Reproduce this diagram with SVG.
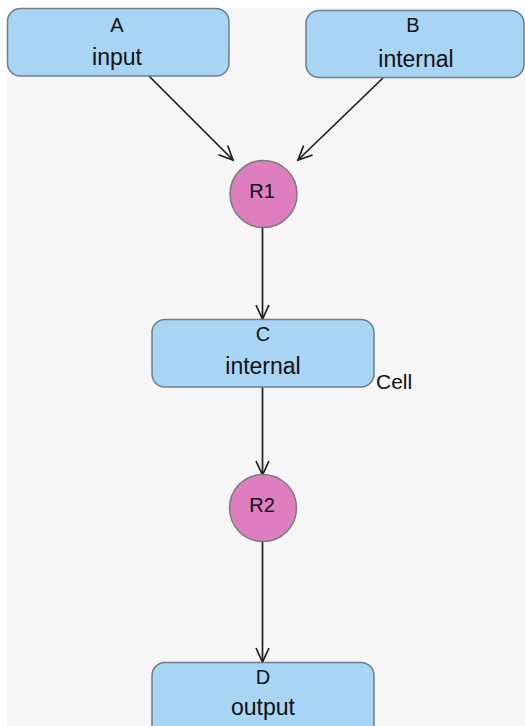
<svg xmlns="http://www.w3.org/2000/svg" width="525" height="726" viewBox="0 0 525 726">
<defs>
<style>
.box{fill:#a9d5f4;stroke:#6d7d8b;stroke-width:1.5}
.rx{fill:#de7dbf;stroke:#7a7a7a;stroke-width:1.5}
.n{font-family:"Liberation Sans",Arial,sans-serif;font-size:20px;fill:#111;text-anchor:middle}
.t{font-family:"Liberation Sans",Arial,sans-serif;font-size:23px;fill:#111;text-anchor:middle}
.e{fill:none;stroke:#1e1e1e;stroke-width:1.7}
</style>
<marker id="arr" viewBox="-17 -9 19 18" markerWidth="19" markerHeight="18" refX="0" refY="0" orient="auto" markerUnits="userSpaceOnUse">
<path d="M-14,-6.5 L0,0 L-14,6.5" fill="none" stroke="#1e1e1e" stroke-width="1.7"/>
</marker>
</defs>
<rect x="0" y="0" width="525" height="726" fill="#ffffff"/>
<rect x="7" y="8" width="518" height="718" fill="#f6f6f6"/>
<g id="connectors">
<line class="e" x1="148" y1="75" x2="233" y2="160" marker-end="url(#arr)"/>
<line class="e" x1="383" y1="78" x2="298" y2="160" marker-end="url(#arr)"/>
<line class="e" x1="262.5" y1="228" x2="262.5" y2="319" marker-end="url(#arr)"/>
<line class="e" x1="262.5" y1="387" x2="262.5" y2="475" marker-end="url(#arr)"/>
<line class="e" x1="262.5" y1="541" x2="262.5" y2="662" marker-end="url(#arr)"/>
</g>
<g id="A">
<rect class="box" x="7.5" y="8.5" width="221.5" height="67.5" rx="13"/>
<text class="n" x="117" y="31.5">A</text>
<text class="t" x="117" y="65">input</text>
</g>
<g id="B">
<rect class="box" x="306" y="10.5" width="218" height="67" rx="13"/>
<text class="n" x="413" y="32">B</text>
<text class="t" x="416" y="67">internal</text>
</g>
<g id="R1">
<circle class="rx" cx="263.5" cy="194" r="33.5"/>
<text class="n" x="262" y="198">R1</text>
</g>
<g id="C">
<rect class="box" x="152" y="319.5" width="222" height="67.5" rx="13"/>
<text class="n" x="263" y="341">C</text>
<text class="t" x="263" y="373.5">internal</text>
<text font-family="'Liberation Sans',Arial,sans-serif" font-size="21px" fill="#111" x="376" y="389">Cell</text>
</g>
<g id="R2">
<circle class="rx" cx="263" cy="508" r="33.5"/>
<text class="n" x="262" y="512">R2</text>
</g>
<g id="D">
<rect class="box" x="152" y="662.5" width="222" height="80" rx="13"/>
<text class="n" x="263" y="683.5">D</text>
<text class="t" x="263" y="715">output</text>
</g>
</svg>
